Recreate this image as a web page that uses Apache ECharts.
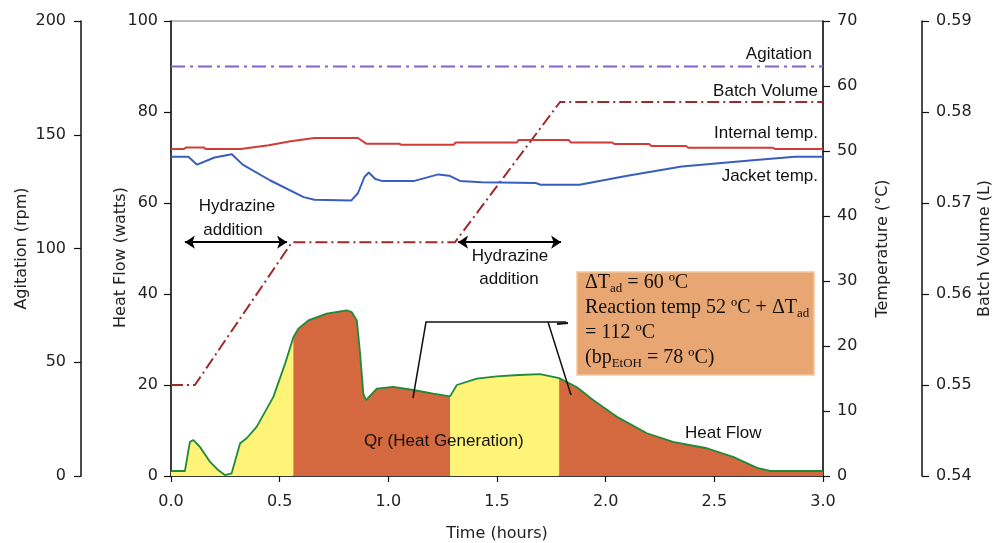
<!DOCTYPE html>
<html><head><meta charset="utf-8">
<script src="https://cdn.jsdelivr.net/npm/echarts@6/dist/echarts.min.js"></script>
<style>html,body{margin:0;padding:0;background:#fff}#c{width:994px;height:543px}</style>
</head><body><div id="c"></div>
<script>
// ---------- data ----------
const agitation = [[0, 180], [3, 180]];
const batchVolume = [[0, 0.55], [0.11, 0.55], [0.557, 0.5657], [1.307, 0.5657], [1.79, 0.5811], [3.0, 0.5811]];
const internalTemp = [[0, 50.3], [0.06, 50.3], [0.07, 50.55], [0.15, 50.55], [0.16, 50.3], [0.32, 50.3], [0.45, 50.9], [0.55, 51.5], [0.66, 52.0], [0.86, 52.0], [0.9, 51.1], [1.05, 51.1], [1.06, 50.96], [1.3, 50.96], [1.31, 51.3], [1.59, 51.3], [1.6, 51.7], [1.83, 51.7], [1.84, 51.3], [2.03, 51.3], [2.04, 51.07], [2.2, 51.07], [2.21, 50.77], [2.37, 50.77], [2.38, 50.5], [2.77, 50.5], [2.78, 50.3], [3.0, 50.3]];
const jacketTemp = [[0, 49.1], [0.08, 49.1], [0.12, 47.9], [0.2, 49.0], [0.28, 49.5], [0.33, 47.9], [0.455, 45.5], [0.61, 42.9], [0.66, 42.5], [0.83, 42.4], [0.86, 43.5], [0.89, 46.0], [0.91, 46.7], [0.94, 45.7], [0.97, 45.4], [1.12, 45.4], [1.23, 46.4], [1.28, 46.2], [1.33, 45.4], [1.43, 45.2], [1.68, 45.06], [1.70, 44.8], [1.88, 44.8], [2.1, 46.2], [2.35, 47.6], [2.65, 48.5], [2.87, 49.1], [3.0, 49.1]];
const heatFlow = [[0, 1.1], [0.064, 1.1], [0.087, 7.5], [0.103, 7.9], [0.133, 6.4], [0.18, 3.1], [0.217, 1.3], [0.248, 0.2], [0.279, 0.6], [0.318, 7.2], [0.348, 8.3], [0.394, 10.8], [0.471, 17.4], [0.525, 24.7], [0.563, 30.5], [0.586, 32.4], [0.632, 34.2], [0.716, 35.7], [0.808, 36.4], [0.832, 36.0], [0.855, 34.2], [0.87, 27.0], [0.885, 18.1], [0.897, 16.7], [0.947, 19.2], [1.023, 19.6], [1.115, 18.9], [1.207, 18.1], [1.284, 17.5], [1.315, 20.0], [1.407, 21.4], [1.499, 21.9], [1.6, 22.2], [1.698, 22.4], [1.786, 21.5], [1.868, 19.5], [1.942, 16.7], [2.052, 13.0], [2.19, 9.4], [2.31, 7.5], [2.466, 6.1], [2.586, 4.2], [2.697, 1.8], [2.757, 1.1], [3.0, 1.1]];
const phaseBounds = [0, 0.563, 1.284, 1.786, 3.0];
const phaseColors = ['#FFF478', '#D4683F', '#FFF478', '#D4683F'];
const hydrazineArrows = [[0.064, 1.321], [0.534, 1.795]]; // [starts], [ends] in hours
const arrowLevel = 51.4; // heat-flow units

// ---------- chart ----------
const SANS = '"Liberation Sans", Arial, sans-serif';
const AX = '"DejaVu Sans", Verdana, sans-serif';
const SERIF = '"Liberation Serif", "Times New Roman", serif';
const chart = echarts.init(document.getElementById('c'));

function lbl(margin, extra) {
  return Object.assign({fontSize: 16, color: '#222', fontFamily: AX, margin: margin}, extra || {});
}
function yAx(o) {
  return Object.assign({
    type: 'value', nameLocation: 'middle', nameRotate: 90, nameMoveOverlap: false,
    nameTextStyle: {fontSize: 16, color: '#222', fontFamily: AX},
    axisLine: {show: true, onZero: false, lineStyle: {color: '#111', width: 1.5}},
    axisTick: {show: true, inside: false, length: 7, lineStyle: {color: '#111', width: 1.2}},
    splitLine: {show: false}
  }, o);
}

const fillSeries = phaseColors.map((col, i) => ({
  type: 'line', xAxisIndex: 0, yAxisIndex: 0, symbol: 'none', silent: true, z: 1,
  data: heatFlow.filter(p => p[0] >= phaseBounds[i] - 1e-9 && p[0] <= phaseBounds[i + 1] + 1e-9),
  lineStyle: {width: 0, opacity: 0},
  areaStyle: {color: col, opacity: 1}
}));

const option = {
  animation: false,
  grid: {left: 171, right: 171, top: 21, bottom: 67, show: true, borderColor: '#777', borderWidth: 1,
         containLabel: false, outerBoundsMode: 'none'},
  xAxis: {
    type: 'value', min: 0, max: 3, interval: 0.5,
    name: 'Time (hours)', nameLocation: 'middle', nameGap: 50, nameMoveOverlap: false,
    nameTextStyle: {fontSize: 16, color: '#222', fontFamily: AX},
    axisLine: {show: true, onZero: false, lineStyle: {color: '#111', width: 1.5}},
    axisTick: {show: true, length: 6, lineStyle: {color: '#111', width: 1.2}},
    axisLabel: lbl(18, {formatter: v => v.toFixed(1)}),
    splitLine: {show: false}
  },
  yAxis: [
    yAx({position: 'left', min: 0, max: 100, interval: 20, name: 'Heat Flow (watts)', nameGap: 42, axisLabel: lbl(13),
         nameTextStyle: {fontSize: 16, color: '#222', fontFamily: AX, padding: [0, 18, 0, 0]}}),
    yAx({position: 'left', offset: 90, min: 0, max: 200, interval: 50, name: 'Agitation (rpm)', nameGap: 51, axisLabel: lbl(15)}),
    yAx({position: 'right', min: 0, max: 70, interval: 10, name: 'Temperature (°C)', nameGap: 52, axisLabel: lbl(14)}),
    yAx({position: 'right', offset: 99, min: 0.54, max: 0.59, interval: 0.01, name: 'Batch Volume (L)', nameGap: 55, axisLabel: lbl(14, {formatter: v => v.toFixed(2)})})
  ],
  series: fillSeries.concat([
    {
      type: 'line', name: 'Heat Flow', xAxisIndex: 0, yAxisIndex: 0, symbol: 'none', z: 3,
      data: heatFlow, lineStyle: {color: '#1F8A3A', width: 1.8},
      markLine: {
        silent: true, symbol: ['arrow', 'arrow'], symbolSize: [10, 10], precision: 3,
        label: {show: false}, lineStyle: {color: '#000', width: 2, type: 'solid'},
        data: hydrazineArrows[0].map((s, i) => [{coord: [s, arrowLevel]}, {coord: [hydrazineArrows[1][i], arrowLevel]}])
      }
    },
    {type: 'line', name: 'Batch Volume', xAxisIndex: 0, yAxisIndex: 3, symbol: 'none', z: 4,
      data: batchVolume, lineStyle: {color: '#9E2A2A', width: 2, type: [12, 4, 2, 4]}},
    {type: 'line', name: 'Internal temp.', xAxisIndex: 0, yAxisIndex: 2, symbol: 'none', z: 4,
      data: internalTemp, lineStyle: {color: '#D43A36', width: 2}},
    {type: 'line', name: 'Jacket temp.', xAxisIndex: 0, yAxisIndex: 2, symbol: 'none', z: 4,
      data: jacketTemp, lineStyle: {color: '#3A5EC0', width: 2}},
    {type: 'line', name: 'Agitation', xAxisIndex: 0, yAxisIndex: 1, symbol: 'none', z: 4,
      data: agitation, lineStyle: {color: '#8064C8', width: 2, type: [14, 5, 3, 5]}}
  ]),
  graphic: [
    {type: 'text', z: 10, style: {text: 'Agitation', x: 812, y: 54, textAlign: 'right', textVerticalAlign: 'middle', font: '17px ' + SANS, fill: '#111'}},
    {type: 'text', z: 10, style: {text: 'Batch Volume', x: 818, y: 91, textAlign: 'right', textVerticalAlign: 'middle', font: '17px ' + SANS, fill: '#111'}},
    {type: 'text', z: 10, style: {text: 'Internal temp.', x: 818, y: 133, textAlign: 'right', textVerticalAlign: 'middle', font: '17px ' + SANS, fill: '#111'}},
    {type: 'text', z: 10, style: {text: 'Jacket temp.', x: 818, y: 176, textAlign: 'right', textVerticalAlign: 'middle', font: '17px ' + SANS, fill: '#111'}},
    {type: 'text', z: 10, style: {text: 'Hydrazine', x: 237, y: 206, textAlign: 'center', textVerticalAlign: 'middle', font: '17px ' + SANS, fill: '#111'}},
    {type: 'text', z: 10, style: {text: 'addition', x: 233, y: 230, textAlign: 'center', textVerticalAlign: 'middle', font: '17px ' + SANS, fill: '#111'}},
    {type: 'text', z: 10, style: {text: 'Hydrazine', x: 510, y: 256, textAlign: 'center', textVerticalAlign: 'middle', font: '17px ' + SANS, fill: '#111'}},
    {type: 'text', z: 10, style: {text: 'addition', x: 509, y: 279, textAlign: 'center', textVerticalAlign: 'middle', font: '17px ' + SANS, fill: '#111'}},
    {type: 'text', z: 10, style: {text: 'Qr (Heat Generation)', x: 364, y: 441, textAlign: 'left', textVerticalAlign: 'middle', font: '17px ' + SANS, fill: '#111'}},
    {type: 'text', z: 10, style: {text: 'Heat Flow', x: 685, y: 433, textAlign: 'left', textVerticalAlign: 'middle', font: '17px ' + SANS, fill: '#111'}},
    {type: 'rect', z: 9, shape: {x: 577, y: 272, width: 237, height: 103}, style: {fill: '#E8A673', stroke: '#F2C79C', lineWidth: 1.5}},
    {type: 'text', z: 10, style: {
      x: 585, y: 270, textAlign: 'left', textVerticalAlign: 'top', fill: '#111',
      text: '{n|ΔT}{s|ad}{n| = 60 ºC}\n{n|Reaction temp 52 ºC + ΔT}{s|ad}\n{n|= 112 ºC}\n{n|(bp}{s|EtOH}{n| = 78 ºC)}',
      rich: {
        n: {font: '20px ' + SERIF, lineHeight: 25, fill: '#111'},
        s: {font: '13px ' + SERIF, lineHeight: 14, verticalAlign: 'bottom', fill: '#111'}
      }
    }},
    {type: 'polyline', z: 10, shape: {points: [[413, 398], [426, 322], [566, 322]]}, style: {stroke: '#111', lineWidth: 1.5, fill: null}},
    {type: 'line', z: 10, shape: {x1: 548, y1: 322, x2: 571, y2: 395}, style: {stroke: '#111', lineWidth: 1.5}},
    {type: 'line', z: 10, shape: {x1: 557, y1: 324, x2: 568, y2: 323}, style: {stroke: '#111', lineWidth: 2}}
  ]
};
chart.setOption(option);
</script>
</body></html>
